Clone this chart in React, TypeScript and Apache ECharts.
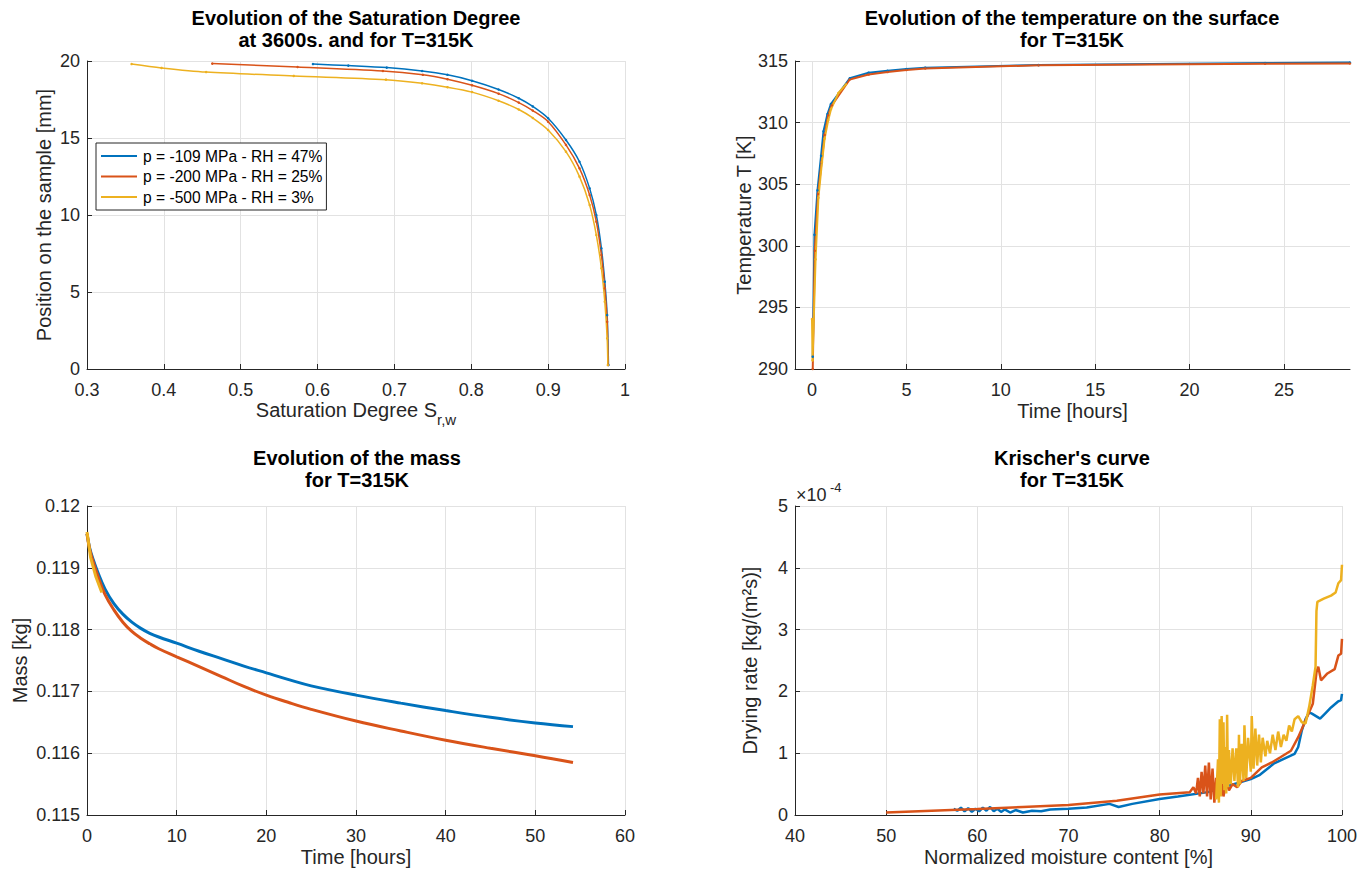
import React, { useEffect, useRef } from 'react';
import * as echarts from 'echarts';

const FONT = "'Liberation Sans', Arial, Helvetica, sans-serif";
const COLORS = ['#0072BD', '#D95319', '#EDB120'];
const NAMES = ['p = -109 MPa - RH = 47%', 'p = -200 MPa - RH = 25%', 'p = -500 MPa - RH = 3%'];

// Plot 1: saturation degree [S, position mm]
const satBlue = [[0.594,19.8],[0.64,19.7],[0.690,19.57],[0.736,19.35],[0.769,19.1],[0.801,18.72],[0.8355,18.15],[0.8618,17.58],[0.88,17.05],[0.9,16.28],[0.9232,14.87],[0.9408,13.46],[0.954,11.73],[0.9627,10.0],[0.9693,7.84],[0.9737,5.67],[0.9768,3.5],[0.9785,0.26]];
const satOrange = [[0.463,19.83],[0.574,19.61],[0.685,19.35],[0.737,19.1],[0.769,18.82],[0.801,18.42],[0.8355,17.88],[0.8618,17.3],[0.88,16.78],[0.9,16.06],[0.9232,14.55],[0.9408,13.03],[0.954,11.3],[0.9627,9.57],[0.9693,7.4],[0.9737,5.24],[0.9768,3.07],[0.978,0.26]];
const satYellow = [[0.358,19.8],[0.397,19.55],[0.455,19.28],[0.569,19.03],[0.689,18.79],[0.736,18.55],[0.769,18.3],[0.801,17.98],[0.8355,17.42],[0.8618,16.85],[0.88,16.3],[0.9,15.52],[0.9232,14.11],[0.9408,12.49],[0.954,10.65],[0.9627,8.7],[0.9693,6.54],[0.9737,4.37],[0.9768,1.99],[0.9777,0.26]];

// Plot 2: surface temperature [hours, K]
const tempBlue = [[0.04,291.0],[0.13,300.9],[0.29,304.5],[0.48,307.3],[0.61,309.3],[0.82,310.7],[1.0,311.5],[2.0,313.6],[3.0,314.05],[4.0,314.2],[5.0,314.35],[6.0,314.46],[12.0,314.67],[24.0,314.84],[28.5,314.87]];
const tempOrange = [[0.04,290.0],[0.15,299.6],[0.32,304.2],[0.51,306.8],[0.67,309.0],[0.86,310.6],[1.05,311.4],[2.0,313.5],[3.0,313.9],[4.0,314.1],[5.0,314.27],[6.0,314.4],[12.0,314.65],[24.0,314.78],[28.5,314.8]];
const tempYellow = [[0.0,294.05],[0.03,290.7],[0.19,298.9],[0.34,303.9],[0.53,306.8],[0.67,308.7],[0.86,310.2],[1.01,311.1],[1.4,312.4],[1.8,313.1]];

// Plot 3: mass [hours, kg]
const massBlue = [[0,0.11955],[0.3,0.11932],[0.7,0.11913],[1.2,0.11893],[2,0.11866],[3,0.11842],[4,0.11825],[5,0.11812],[6,0.11802],[7,0.11794],[8,0.11788],[10,0.11778],[12.5,0.11765],[15,0.11753],[17.5,0.11741],[20,0.1173],[22.5,0.11719],[25,0.11709],[30,0.11694],[35,0.11681],[40,0.11669],[45,0.11658],[50,0.11649],[54.2,0.11643]];
const massOrange = [[0,0.11955],[0.3,0.1193],[0.7,0.11909],[1.2,0.11887],[2,0.11857],[3,0.11832],[4,0.11812],[5,0.11797],[6,0.11786],[7,0.11777],[8,0.11769],[10,0.11756],[12.5,0.1174],[15,0.11724],[17.5,0.11708],[20,0.11694],[22.5,0.11682],[25,0.11671],[30,0.11652],[35,0.11636],[40,0.11621],[45,0.11608],[50,0.11596],[54.2,0.11585]];
const massYellow = [[0,0.11958],[0.4,0.11917],[1.0,0.11885],[1.65,0.1186]];

// Plot 4: Krischer's curve [%, drying rate x1e-4]
const kriBlue = [[57.4,0.1],[57.8,0.07],[58.2,0.12],[58.6,0.06],[59.0,0.11],[59.4,0.05],[59.8,0.1],[60.2,0.06],[60.6,0.12],[61.0,0.07],[61.4,0.13],[61.8,0.06],[62.2,0.1],[62.6,0.05],[63.0,0.09],[63.6,0.04],[64.2,0.08],[65.0,0.04],[66.0,0.07],[67.0,0.06],[68,0.09],[70,0.1],[72,0.12],[74.5,0.18],[75.5,0.13],[77,0.18],[80,0.26],[82,0.3],[85.3,0.37],[87,0.45],[90,0.58],[91,0.65],[92.5,0.83],[93.5,0.9],[94.8,0.99],[95.2,1.1],[95.6,1.37],[96.0,1.55],[96.4,1.66],[96.7,1.64],[97.6,1.56],[98.2,1.65],[98.8,1.74],[99.6,1.84],[99.9,1.86],[100,1.96]];
const kriOrange = [[50,0.04],[55,0.07],[60,0.097],[65,0.13],[70,0.16],[75.3,0.23],[80,0.33],[83.3,0.37],[83.7,0.45],[84.0,0.35],[84.2,0.6],[84.4,0.3],[84.6,0.7],[84.8,0.35],[85.0,0.8],[85.2,0.3],[85.4,0.85],[85.6,0.25],[85.8,0.75],[86.0,0.2],[86.2,0.6],[86.4,0.35],[86.7,0.65],[87.0,0.3],[87.3,0.55],[87.6,0.4],[88.0,0.5],[88.5,0.45],[89,0.55],[90,0.6],[91.2,0.77],[92.3,0.85],[93.2,0.93],[94.4,1.04],[95.2,1.26],[96,1.53],[96.8,1.8],[97.2,2.31],[97.4,2.4],[97.7,2.18],[98.4,2.29],[99.2,2.36],[99.6,2.58],[99.9,2.61],[100,2.85]];
const kriYellow = [[86.2,0.25],[86.4,0.9],[86.5,0.2],[86.6,1.55],[86.7,0.3],[86.8,1.6],[86.9,0.5],[87.0,1.5],[87.1,0.4],[87.2,1.1],[87.3,0.35],[87.4,1.62],[87.5,0.45],[87.6,1.05],[87.8,0.5],[88.0,1.08],[88.2,0.55],[88.4,1.08],[88.6,0.45],[88.7,1.3],[88.8,0.5],[89.0,1.15],[89.2,0.55],[89.3,1.45],[89.5,0.6],[89.7,1.25],[90.0,0.7],[90.1,1.6],[90.3,0.75],[90.5,1.4],[90.7,0.8],[90.9,1.3],[91.1,0.85],[91.3,1.25],[91.6,0.95],[91.8,1.2],[92.1,1.0],[92.4,1.3],[92.7,1.05],[93.0,1.35],[93.3,1.1],[93.6,1.3],[93.9,1.2],[94.2,1.45],[94.5,1.35],[94.8,1.55],[95.2,1.6],[95.6,1.5],[96.0,1.48],[96.4,1.75],[96.8,2.1],[97.1,2.4],[97.2,3.3],[97.3,3.45],[98.0,3.5],[98.8,3.55],[99.3,3.6],[99.6,3.75],[99.9,3.8],[100,4.05]];

const tempTicks = [0, 5, 10, 15, 20, 25];

const TXT = '#262626';
const TICK_FS = 18;
const NAME_FS = 20;

function axisBase(extra: any) {
  return {
    type: 'value',
    nameLocation: 'middle',
    axisLine: { show: true, onZero: false, lineStyle: { color: TXT, width: 1 } },
    axisTick: { show: true, inside: true, length: 5, lineStyle: { color: TXT } },
    axisLabel: { color: TXT, fontSize: TICK_FS, fontFamily: FONT, margin: 12 },
    splitLine: { show: true, lineStyle: { color: '#e2e2e2', width: 1 } },
    nameTextStyle: { color: TXT, fontSize: NAME_FS, fontFamily: FONT },
    ...extra,
  };
}

function mk(data: number[][], i: number, idx: number, width: number, sym: boolean, smooth: number) {
  return {
    type: 'line',
    name: NAMES[i],
    xAxisIndex: idx,
    yAxisIndex: idx,
    data,
    color: COLORS[i],
    lineStyle: { width, color: COLORS[i] },
    showSymbol: sym,
    symbol: 'circle',
    symbolSize: sym ? 2.5 : 0,
    itemStyle: { color: COLORS[i] },
    smooth: smooth > 0 ? smooth : false,
    clip: true,
    z: 2,
  };
}

function titleText(x: number, y: number, text: string) {
  return {
    type: 'text',
    x,
    y,
    style: {
      text,
      align: 'center',
      textAlign: 'center',
      verticalAlign: 'top',
      textVerticalAlign: 'top',
      font: 'bold 20px ' + FONT,
      fontSize: 20,
      fontWeight: 'bold',
      fontFamily: FONT,
      lineHeight: 22,
      fill: '#000',
    },
  };
}

export default function App() {
  const ref = useRef<HTMLDivElement>(null);
  useEffect(() => {
    document.body.style.margin = '0';
    const chart = echarts.init(ref.current!, null, { renderer: 'svg' });
    const option: any = {
      animation: false,
      backgroundColor: '#fff',
      grid: [
        { left: 87, top: 61, width: 538, height: 308 },
        { left: 795, top: 61, width: 555, height: 308 },
        { left: 87, top: 506, width: 538, height: 309 },
        { left: 795, top: 506, width: 555, height: 309 },
      ],
      xAxis: [
        axisBase({
          gridIndex: 0, min: 0.3, max: 1, interval: 0.1,
          name: '{a|Saturation Degree S}{b|r,w}', nameGap: 31,
          nameTextStyle: {
            rich: {
              a: { fontSize: NAME_FS, color: TXT, fontFamily: FONT, lineHeight: 22, verticalAlign: 'top' },
              b: { fontSize: 15, color: TXT, fontFamily: FONT, lineHeight: 16, padding: [12, 0, 0, 0], verticalAlign: 'top' },
            },
          },
        }),
        axisBase({
          gridIndex: 1, min: -0.9, max: 28.5,
          name: 'Time [hours]', nameGap: 32,
          axisLabel: { color: TXT, fontSize: TICK_FS, fontFamily: FONT, margin: 12, customValues: tempTicks },
          axisTick: { show: true, inside: true, length: 5, lineStyle: { color: TXT }, customValues: tempTicks },
        }),
        axisBase({ gridIndex: 2, min: 0, max: 60, interval: 10, name: 'Time [hours]', nameGap: 32 }),
        axisBase({ gridIndex: 3, min: 40, max: 100, interval: 10, name: 'Normalized moisture content [%]', nameGap: 32 }),
      ],
      yAxis: [
        axisBase({ gridIndex: 0, min: 0, max: 20, interval: 5, name: 'Position on the sample [mm]', nameGap: 33, axisLabel: { color: TXT, fontSize: TICK_FS, fontFamily: FONT, margin: 7 } }),
        axisBase({ gridIndex: 1, min: 290, max: 315, interval: 5, name: 'Temperature T [K]', nameGap: 38, axisLabel: { color: TXT, fontSize: TICK_FS, fontFamily: FONT, margin: 7 } }),
        axisBase({
          gridIndex: 2, min: 0.115, max: 0.12, interval: 0.001, name: 'Mass [kg]', nameGap: 57,
          axisLabel: { color: TXT, fontSize: TICK_FS, fontFamily: FONT, margin: 7, formatter: (v: number) => String(parseFloat(v.toFixed(3))) },
        }),
        axisBase({ gridIndex: 3, min: 0, max: 5, interval: 1, name: 'Drying rate [kg/(m²s)]', nameGap: 35, axisLabel: { color: TXT, fontSize: TICK_FS, fontFamily: FONT, margin: 7 } }),
      ],
      legend: {
        data: NAMES,
        left: 96,
        top: 143,
        orient: 'vertical',
        backgroundColor: '#fff',
        borderColor: TXT,
        borderWidth: 1,
        borderRadius: 0,
        padding: [5, 4, 5, 5],
        itemGap: 4.5,
        itemWidth: 36,
        itemHeight: 2,
        icon: 'rect',
        textStyle: { color: '#000', fontSize: 15.6, fontFamily: FONT, padding: [0, 0, 0, 1] },
      },
      graphic: [
        titleText(356, 7, 'Evolution of the Saturation Degree\nat 3600s. and for T=315K'),
        titleText(1072, 7, 'Evolution of the temperature on the surface\nfor T=315K'),
        titleText(357, 447, 'Evolution of the mass\nfor T=315K'),
        titleText(1072, 447, "Krischer's curve\nfor T=315K"),
        { type: 'text', x: 796, y: 486, style: { text: '×10', font: '18px ' + FONT, fontSize: 18, fontFamily: FONT, fill: TXT } },
        { type: 'text', x: 830, y: 481, style: { text: '-4', font: '13px ' + FONT, fontSize: 13, fontFamily: FONT, fill: TXT } },
      ],
      series: [
        mk(satBlue, 0, 0, 1.5, true, 0.3),
        mk(satOrange, 1, 0, 1.5, true, 0.3),
        mk(satYellow, 2, 0, 1.5, true, 0.3),
        mk(tempBlue, 0, 1, 2, true, 0),
        mk(tempOrange, 1, 1, 2, true, 0),
        mk(tempYellow, 2, 1, 2, true, 0),
        mk(massBlue, 0, 2, 3, false, 0.4),
        mk(massOrange, 1, 2, 3, false, 0.4),
        mk(massYellow, 2, 2, 3, false, 0),
        mk(kriBlue, 0, 3, 2.5, false, 0),
        mk(kriOrange, 1, 3, 2.5, false, 0),
        mk(kriYellow, 2, 3, 2.5, false, 0),
      ],
    };
    chart.setOption(option);
    return () => chart.dispose();
  }, []);
  return <div ref={ref} style={{ width: 1360, height: 870 }} />;
}
